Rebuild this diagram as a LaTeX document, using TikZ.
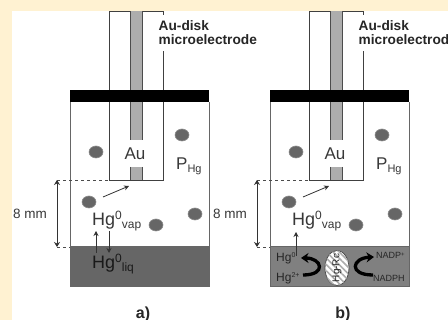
\documentclass[tikz,border=0pt]{standalone}
\usepackage{fontspec}
\setmainfont{Liberation Sans}
\usetikzlibrary{arrows.meta,patterns.meta,shapes.geometric}
\definecolor{creamback}{HTML}{FFF2D2}
\newcommand{\fs}[1]{\fontsize{#1}{#1}\selectfont}
\newcommand{\upper}[3]{\raisebox{#1}{\fs{#2}#3}}
\begin{document}
\begin{tikzpicture}[x=1pt, y=-1pt,
    wall/.style={draw=black!60, line width=1pt},
    thin wall/.style={draw=black!75, line width=0.9pt},
    rod/.style={draw=black!70, line width=1pt},
    dot/.style={ellipse, draw=black!45, fill=black!60, line width=0.6pt, minimum width=14pt, minimum height=12pt, inner sep=0pt},
    txt/.style={inner sep=0pt, text=black!78},
    arr/.style={-{Stealth[length=5pt,width=5pt]}, draw=black!80, line width=0.8pt},
    turn/.style={-{Stealth[length=7.5pt,width=10pt]}, black, line width=3.3pt}]
  \useasboundingbox (0,0) rectangle (448,320);
  \fill[creamback] (0,0) rectangle (448,320);
  \fill[white] (12,11) rectangle (448,320);
  % both cells
  \foreach \p/\dx/\hue/\lab in {a/0/60/a), b/200/50/b)} {
    \begin{scope}[xshift=\dx pt]
      \fill[black!\hue] (70,247) rectangle (209,287);
      \draw[wall] (70,102) -- (70,287) -- (209,287) -- (209,102);
      \draw[wall] (70,247) -- (209,247);
      \draw[thin wall] (109,180) -- (109,11) -- (163,11) -- (163,180) -- cycle;
      \fill[black!32] (130,11) rectangle (142.5,140);
      \fill[black!32] (130,167) rectangle (142.5,180);
      \draw[rod] (130,11) -- (130,140) (142.5,11) -- (142.5,140);
      \draw[rod] (130,167) -- (130,180) (142.5,167) -- (142.5,180);
      \fill[black] (70,90) rectangle (209,102);
      \node[dot] (\p-d1) at (96,152) {};
      \node[dot] (\p-d2) at (182,135) {};
      \node[dot] (\p-d3) at (89,202) {};
      \node[dot] (\p-d4) at (156,225) {};
      \node[dot] (\p-d5) at (195,214) {};
      \node[txt] (\p-au) at (135,154) {\fs{17}Au};
      \node[txt, anchor=base west] (\p-phg) at (176,170) {\fs{17}P\upper{-3pt}{11}{Hg}};
      \node[txt, anchor=base west] (\p-vap) at (92,226) {\fs{18}Hg\upper{6pt}{12}{0}\upper{-3pt}{12}{vap}};
      \node[txt, fill=white, anchor=west, align=left, font=\fs{13.7}\bfseries, text=black!85, inner ysep=2pt, minimum height=36pt] (\p-label) at (158.5,33) {Au-disk\\[0.5pt]microelectrode};
      \node[txt, font=\fs{16}\bfseries, text=black!85] (\p-cap) at (143,314) {\lab};
      \coordinate (\p-top) at (57,180);
      \coordinate (\p-bot) at (57,247);
      \coordinate (\p-c1) at (109,180);
      \coordinate (\p-c2) at (70,247);
      \coordinate (\p-from) at (103,197);
      \coordinate (\p-to) at (129,186);
      \draw[dashed, draw=black!70, line width=0.8pt] (\p-top) -- (\p-c1);
      \draw[dashed, draw=black!70, line width=0.8pt] (\p-bot) -- (\p-c2);
      \draw[{Stealth[length=5pt,width=6pt]}-{Stealth[length=5pt,width=6pt]}, draw=black!80, line width=0.9pt] (\p-top) -- (\p-bot);
      \draw[arr] (\p-from) -- (\p-to);
      \node[txt] (\p-mm) at (30,214) {\fs{13.5}8 mm};
    \end{scope}
  }
  % cell a, liquid mercury
  \node[txt, text=black!90, anchor=base west] (liq) at (92,269) {\fs{18}Hg\upper{6pt}{12}{0}\upper{-3pt}{12}{liq}};
  \coordinate (up0) at (96,253);
  \coordinate (up1) at (96,231);
  \coordinate (down0) at (109,231);
  \coordinate (down1) at (109,253);
  \draw[arr] (up0) -- (up1);
  \draw[arr] (down0) -- (down1);
  % cell b, enzyme
  \node[ellipse, draw=black!70, line width=0.8pt, fill=white, minimum width=24pt, minimum height=35pt, inner sep=0pt] (rcback) at (337,268) {};
  \node[ellipse, pattern={Lines[angle=-45,distance=4.5pt,line width=1.6pt]}, pattern color=black!32, minimum width=24pt, minimum height=35pt, inner sep=0pt] (rc) at (337,268) {};
  \node[txt, text=black!85, rotate=90] (rclabel) at (337,268) {\fs{10}Hg-Rc};
  \node[txt, text=black!85, anchor=base west] (hg0) at (276,262) {\fs{12}Hg\upper{4pt}{7}{0}};
  \node[txt, text=black!85, anchor=base west] (hg2) at (276,282) {\fs{12}Hg\upper{4pt}{7}{2+}};
  \node[txt, text=black!85, anchor=base west] (nadp) at (376,259) {\fs{9}NADP\upper{2pt}{6}{+}};
  \node[txt, text=black!85, anchor=base west] (nadph) at (373,282) {\fs{9}NADPH};
  \coordinate (rise0) at (296,256);
  \coordinate (rise1) at (296,232);
  \draw[arr] (rise0) -- (rise1);
  \coordinate (l0) at (303,275);
  \coordinate (l1) at (301,258);
  \coordinate (r0) at (373,275);
  \coordinate (r1) at (374,257);
  \draw[turn] (l0) .. controls (327,275) and (322,258) .. (l1);
  \draw[turn] (r0) .. controls (348,275) and (352,258) .. (r1);
\end{tikzpicture}
\end{document}
